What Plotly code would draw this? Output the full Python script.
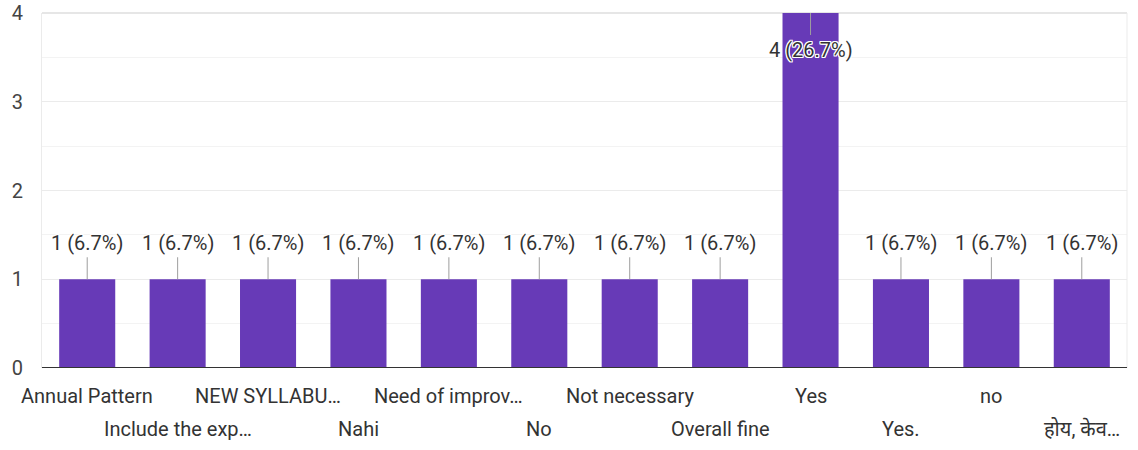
import plotly.graph_objects as go

categories = ["Annual Pattern", "Include the exp…", "NEW SYLLABU…", "Nahi",
              "Need of improv…", "No", "Not necessary", "Overall fine",
              "Yes", "Yes.", "no", "होय, केव…"]
counts = [1, 1, 1, 1, 1, 1, 1, 1, 4, 1, 1, 1]
percents = ["6.7%", "6.7%", "6.7%", "6.7%", "6.7%", "6.7%", "6.7%", "6.7%",
            "26.7%", "6.7%", "6.7%", "6.7%"]
y_ticks = [0, 1, 2, 3, 4]

BAR = "#673ab7"
TEXT = "#333333"
FONT = "Roboto, 'Noto Sans', 'Noto Sans Devanagari', Arial, sans-serif"
FS = 20
YMAX = 4

xs = list(range(len(categories)))
fig = go.Figure()
fig.add_trace(go.Bar(x=xs, y=counts, marker=dict(color=BAR, line=dict(width=0)),
                     hoverinfo="skip", showlegend=False))

halo = ("-1px -1px 0 #fff, 1px -1px 0 #fff, -1px 1px 0 #fff, 1px 1px 0 #fff, "
        "0 -1px 0 #fff, 0 1px 0 #fff, -1px 0 0 #fff, 1px 0 0 #fff")

px_per_unit = 355 / YMAX
leader = 22 / px_per_unit
for i, (c, p) in enumerate(zip(counts, percents)):
    inside = c + 0.5 > YMAX
    sign = -1 if inside else 1
    fig.add_shape(type="line", xref="x", yref="y", x0=i, x1=i, y0=c, y1=c + sign * leader,
                  line=dict(color="#9e9e9e", width=1), layer="above")
    fig.add_annotation(x=i, y=c, xref="x", yref="y", text=f"{c} ({p})",
                       showarrow=False, yanchor="middle", yshift=sign * 36.5,
                       font=dict(family=FONT, size=FS, color=TEXT, shadow=halo))

for i, cat in enumerate(categories):
    fig.add_annotation(x=i, y=0, xref="x", yref="paper", text=cat, showarrow=False,
                       yanchor="middle", yshift=-28 if i % 2 == 0 else -61,
                       font=dict(family=FONT, size=FS, color=TEXT))

fig.update_layout(
    width=1138, height=450,
    margin=dict(l=42, r=11, t=13, b=82, autoexpand=False),
    paper_bgcolor="white", plot_bgcolor="white",
    bargap=0.38,
    xaxis=dict(range=[-0.5, len(categories) - 0.5], showticklabels=False,
               showgrid=False, zeroline=False, showline=False, fixedrange=True,
               automargin=False),
    yaxis=dict(range=[0, YMAX], tickvals=y_ticks, ticktext=[str(v) for v in y_ticks],
               showgrid=True, gridcolor="#ebebeb", gridwidth=1,
               minor=dict(dtick=0.5, showgrid=True, gridcolor="#f3f3f3", gridwidth=1),
               zeroline=False, showline=True, linecolor="#ebebeb", linewidth=1,
               ticks="", ticklabelstandoff=14, automargin=False,
               tickfont=dict(family=FONT, size=FS, color="#444444"), fixedrange=True),
    showlegend=False,
)
fig.add_shape(type="line", xref="paper", yref="paper", x0=1, x1=1, y0=0, y1=1,
              line=dict(color="#ebebeb", width=1))
fig.add_shape(type="line", xref="paper", yref="paper", x0=0, x1=1, y0=1, y1=1,
              line=dict(color="#e6e6e6", width=2), layer="below")
fig.add_shape(type="line", xref="paper", yref="y", x0=0, x1=1, y0=0, y1=0,
              line=dict(color="#333333", width=2), layer="above")

fig.write_html("out.html", config={"displayModeBar": False},
               post_script="document.body.style.margin='0';")
